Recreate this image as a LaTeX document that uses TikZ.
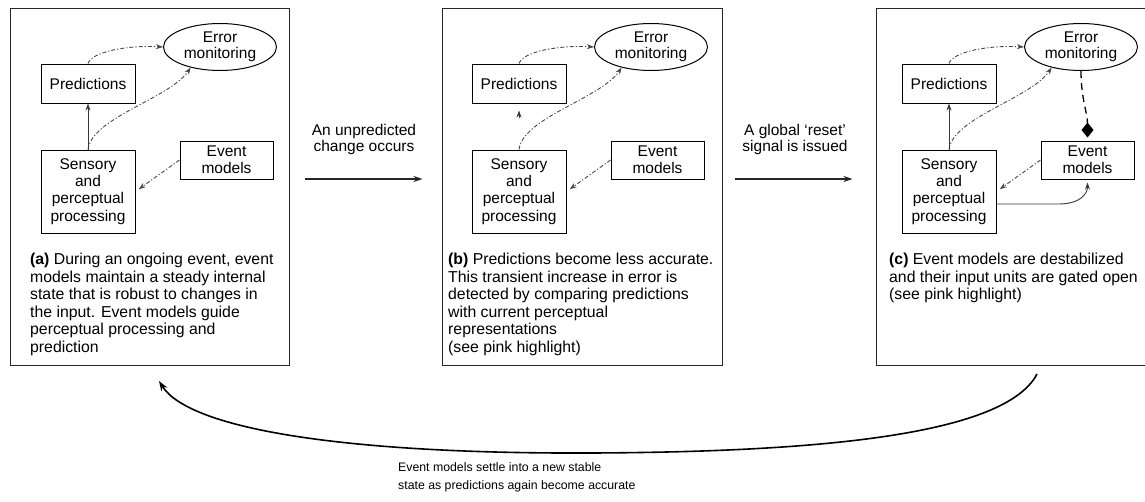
\documentclass[tikz,border=0pt]{standalone}
\usepackage{fontspec}
\setmainfont{Liberation Sans}
\usetikzlibrary{shapes.geometric,arrows.meta}

\newcommand\capfont{\fontsize{15.8}{17.5}\selectfont}
\newcommand\boxfont{\fontsize{15.5}{17.3}\selectfont}
\newcommand\ellfont{\fontsize{15.5}{16}\selectfont}
\newcommand\notefont{\fontsize{12.3}{18.5}\selectfont}

\tikzset{
  frame/.style={draw=black!85, line width=1pt, minimum width=280pt, minimum height=357pt, inner sep=0pt},
  unit/.style={draw=black, line width=1pt, inner sep=0pt, align=center, font=\boxfont},
  monitor/.style={ellipse, draw=black, line width=1pt, inner sep=0pt, minimum width=113pt, minimum height=47pt, align=center, font=\ellfont},
  flow/.style={draw=black!72, line width=0.9pt, dash pattern=on 4pt off 2pt on 1.2pt off 2pt,
    -{Stealth[length=7pt,width=5pt]}},
  feed/.style={draw=black!78, line width=0.9pt, -{Stealth[length=7pt,width=5pt]}},
  step arrow/.style={draw=black!85, line width=1.4pt, -{Stealth[length=9pt,width=6pt]}},
  caption/.style={anchor=north west, inner sep=0pt, align=left, font=\capfont},
  trans/.style={inner sep=0pt, align=center, font=\fontsize{15.5}{16}\selectfont},
}

% the four processing units of one panel and their common connectors
\newcommand\panelcore[2]{%
  \begin{scope}[xshift=#2pt]
    \node[monitor] (#1-err) at (220,47) {Error\\monitoring};
    \node[unit, minimum width=94pt, minimum height=39pt] (#1-pred) at (88,83.5) {Predictions};
    \node[unit, minimum width=94pt, minimum height=83pt] (#1-sens) at (88,191.5) {Sensory\\and\\perceptual\\processing};
    \node[unit, minimum width=93pt, minimum height=38pt] (#1-ev) at (226.5,160) {Event\\models};
  \end{scope}
  \draw[flow] (#1-pred.north) .. controls +(4,-12) and +(-35,-2) .. (#1-err.west);
  \draw[flow] (#1-sens.north) .. controls +(4,-32) and +(-21,31) .. (#1-err.215);
  \draw[flow, shorten >=4pt] (#1-ev.west) -- (#1-sens.east);
}

\begin{document}
\begin{tikzpicture}[x=1pt, y=-1pt]
  \useasboundingbox (0,0) rectangle (1145,501);

  % panel frames
  \node[frame, minimum width=279pt] (a-fr) at (149.5,186.5) {};
  \node[frame] (b-fr) at (582,186.5) {};
  \node[frame] (c-fr) at (1016,186.5) {};

  % (a) steady state
  \panelcore{a}{0}
  \draw[feed] (a-sens.north) -- (a-pred.south);
  \node[caption] (a-cap) at (30,253) {\textbf{(a)} During an ongoing event, event\\models maintain a steady internal\\state that is robust to changes in\\the input. Event models guide\\perceptual processing and\\prediction};

  % (b) prediction error rises
  \panelcore{b}{431}
  \draw[feed] ([yshift=-14pt]b-pred.south) -- ([yshift=-7pt]b-pred.south);
  \node[caption] (b-cap) at (448,253) {\textbf{(b)} Predictions become less accurate.\\This transient increase in error is\\detected by comparing predictions\\with current perceptual\\representations\\(see pink highlight)};

  % (c) reset and gating
  \panelcore{c}{861}
  \draw[feed] (c-sens.north) -- (c-pred.south);
  \draw[draw=black, line width=1.3pt, dash pattern=on 7pt off 5pt,
        -{Diamond[length=15pt,width=12pt]}, shorten >=3pt]
    (c-err.south) .. controls +(0,28) and +(0,-28) .. (c-ev.north);
  \draw[feed, shorten >=3pt] ([yshift=-12.5pt]c-sens.east) -- ++(62,0)
    .. controls +(22,0) and +(0,14) .. (c-ev.south);
  \node[caption] (c-cap) at (889,253) {\textbf{(c)} Event models are destabilized\\and their input units are gated open\\(see pink highlight)};

  % transitions between panels
  \node[trans] (t-ab) at (364,139) {An unpredicted\\change occurs};
  \draw[step arrow, shorten <=15pt, shorten >=19pt] ([yshift=7.5pt]a-fr.east) -- ([yshift=7.5pt]b-fr.west);
  \node[trans] (t-bc) at (795,139) {A global `reset'\\signal is issued};
  \draw[step arrow, shorten <=12pt, shorten >=23pt] ([yshift=7.5pt]b-fr.east) -- ([yshift=7.5pt]c-fr.west);

  % return to a stable state
  \coordinate (cycle-from) at (1037,374);
  \coordinate (cycle-mid) at (590,453);
  \coordinate (cycle-to) at (159,381);
  \draw[line width=1.6pt, -{Stealth[length=10pt,width=7pt]}]
    (cycle-from) .. controls (1005,435) and (820,452) .. (cycle-mid)
    .. controls (350,454) and (190,430) .. (cycle-to);
  \node[anchor=north west, inner sep=0pt, align=left, font=\notefont] (note) at (398,462)
    {Event models settle into a new stable\\state as predictions again become accurate};
\end{tikzpicture}
\end{document}
